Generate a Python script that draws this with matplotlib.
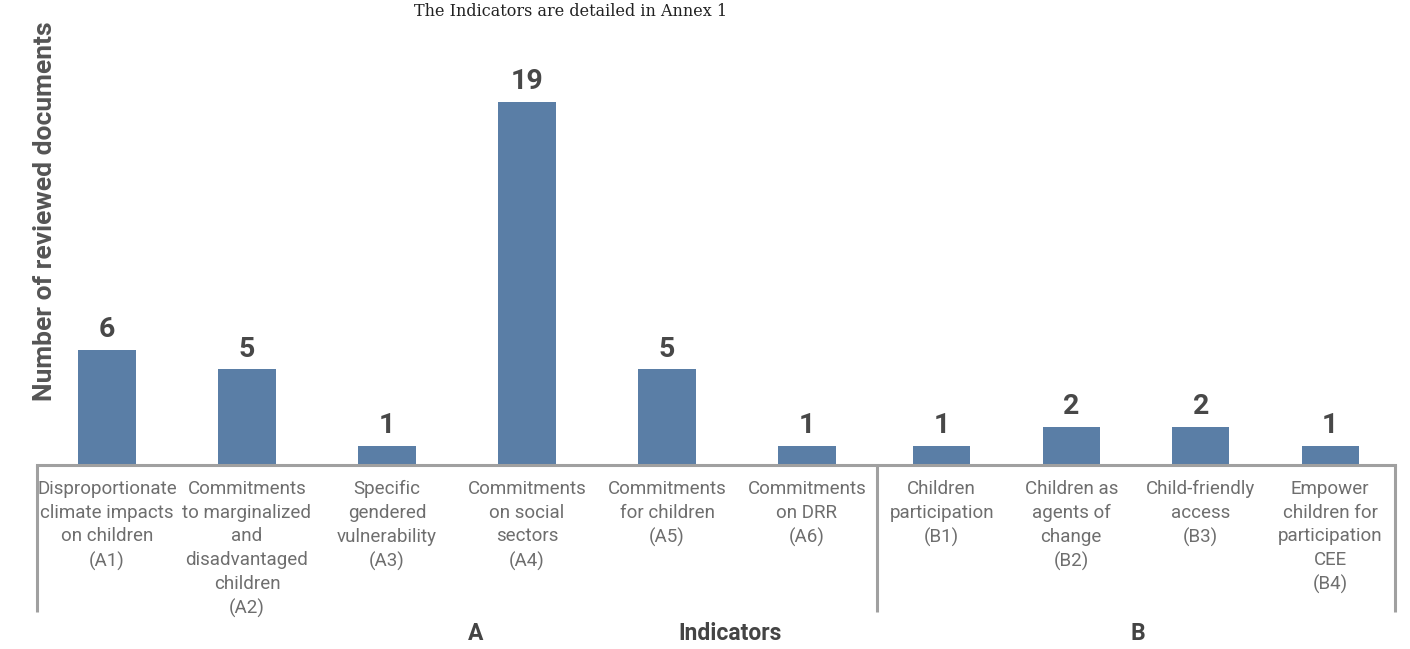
import matplotlib
matplotlib.use("Agg")
import matplotlib.pyplot as plt
import numpy as np

# Индикаторы: группа A (обязательства) и группа B (участие детей)
labels = [
    "Disproportionate\nclimate impacts\non children\n(A1)",
    "Commitments\nto marginalized\nand\ndisadvantaged\nchildren\n(A2)",
    "Specific\ngendered\nvulnerability\n(A3)",
    "Commitments\non social\nsectors\n(A4)",
    "Commitments\nfor children\n(A5)",
    "Commitments\non DRR\n(A6)",
    "Children\nparticipation\n(B1)",
    "Children as\nagents of\nchange\n(B2)",
    "Child-friendly\naccess\n(B3)",
    "Empower\nchildren for\nparticipation\nCEE\n(B4)",
]
groups = ["A", "A", "A", "A", "A", "A", "B", "B", "B", "B"]
counts = [6, 5, 1, 19, 5, 1, 1, 2, 2, 1]

# ширина слота категории в каждой группе (B чуть уже)
slot_w = {"A": 1.0, "B": 0.925}

W, H = 1410, 649
fig = plt.figure(figsize=(W / 100, H / 100), dpi=100)
ax = fig.add_axes([37 / W, (H - 465) / H, (1395 - 37) / W, 425 / H])

widths = np.array([slot_w[g] for g in groups])
edges = np.concatenate([[0], np.cumsum(widths)])
x = edges[:-1] + widths / 2

bars = ax.bar(x, counts, width=0.41, color="#5a7ea6")
ax.bar_label(bars, padding=5, fontsize=20.5, fontweight="bold",
             color="#484848", family="Roboto")

ax.set_xlim(0, edges[-1])
ax.set_ylim(0, 22.25)
ax.set_yticks([])
ax.set_xticks(x)
ax.set_xticklabels(labels, fontsize=13.5, color="#6e6e6e", family="Roboto",
                   linespacing=1.4, va="top")
ax.tick_params(axis="x", length=0, pad=11)
for s in ["top", "left", "right"]:
    ax.spines[s].set_visible(False)
ax.spines["bottom"].set_color("#a0a0a0")
ax.spines["bottom"].set_linewidth(2.2)

# вертикальные разделители групп под осью
trans = ax.get_xaxis_transform()
split = edges[groups.index("B")]
for xv in [0, split, edges[-1]]:
    ax.plot([xv, xv], [0, -147 / 425], transform=trans, color="#a0a0a0",
            lw=2.2, clip_on=False, solid_capstyle="butt")

# подписи групп и общей оси
gl = dict(transform=trans, ha="center", va="center", fontsize=16.5,
          fontweight="bold", color="#444444", family="Roboto")
ax.text(3.13, -168 / 425, "A", **gl)
ax.text(4.95, -168 / 425, "Indicators", **gl)
ax.text(7.86, -168 / 425, "B", **gl)

fig.text(45 / W, 1 - 211 / H, "Number of reviewed documents", rotation=90,
         ha="center", va="center", fontsize=19, fontweight="bold",
         color="#555555", family="Roboto")
fig.text(571 / W, 1 - 16 / H, "The Indicators are detailed in Annex 1",
         ha="center", va="baseline", fontsize=11.5, color="#222222",
         family="DejaVu Serif")

fig.savefig("out.png", dpi=100)
